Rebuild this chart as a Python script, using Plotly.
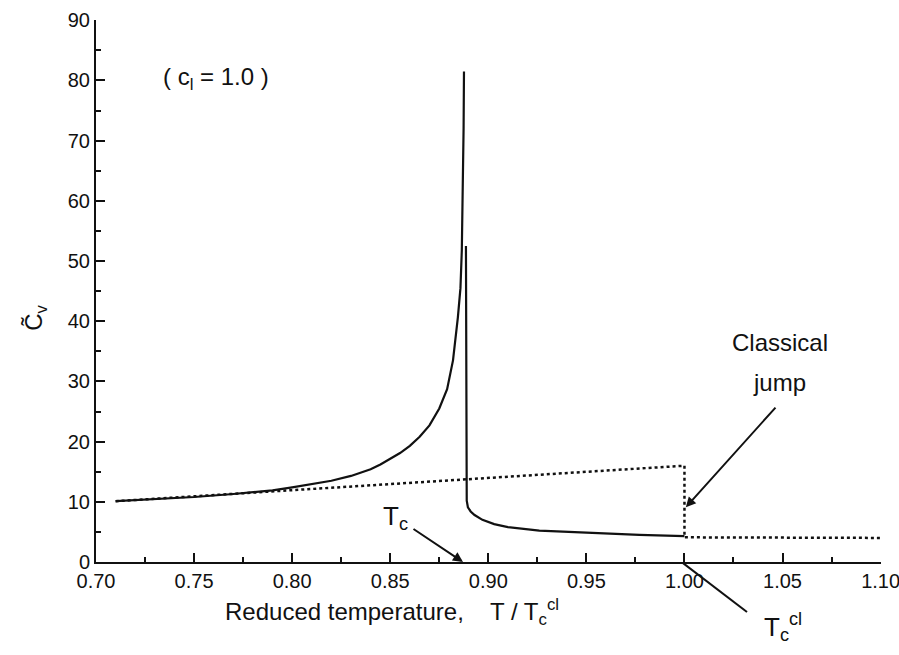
import plotly.graph_objects as go

# ---- data ----
# solid curve, below Tc (diverging branch)
t_low = [0.710, 0.730, 0.750, 0.770, 0.790, 0.800, 0.810, 0.820, 0.830, 0.840,
         0.845, 0.850, 0.855, 0.860, 0.865, 0.870, 0.875, 0.879, 0.882, 0.8845,
         0.8858, 0.8865, 0.8871, 0.8874, 0.8876]
cv_low = [10.1, 10.45, 10.8, 11.3, 11.9, 12.4, 12.9, 13.5, 14.3, 15.4,
          16.2, 17.1, 18.1, 19.3, 20.8, 22.7, 25.5, 28.7, 33.5, 40.7,
          45.5, 51.8, 62.0, 72.0, 81.5]
# solid curve, above Tc
t_high = [0.8886, 0.8887, 0.8890, 0.8896, 0.8910, 0.8930, 0.8970, 0.9030,
          0.9100, 0.9260, 0.9520, 0.9770, 1.0000]
cv_high = [52.5, 14.0, 10.2, 9.1, 8.4, 7.8, 7.0, 6.3,
           5.8, 5.2, 4.8, 4.5, 4.3]
# classical (mean-field) curve, dotted
t_cl = [0.710, 1.000, 1.000, 1.050, 1.100]
cv_cl = [10.1, 16.0, 4.1, 4.05, 4.0]

x_ticks = [0.70, 0.75, 0.80, 0.85, 0.90, 0.95, 1.00, 1.05, 1.10]
x_ticklabels = ["0.70", "0.75", "0.80", "0.85", "0.90", "0.95", "1.00", "1.05", "1.10"]
y_ticks = [0, 10, 20, 30, 40, 50, 60, 70, 80, 90]

FONT = "Liberation Sans, Arial, sans-serif"
INK = "#111111"

fig = go.Figure()
fig.add_trace(go.Scatter(x=t_cl, y=cv_cl, mode="lines",
                         line=dict(color=INK, width=2.5, dash="dot"),
                         showlegend=False, hoverinfo="skip"))
fig.add_trace(go.Scatter(x=t_low, y=cv_low, mode="lines",
                         line=dict(color=INK, width=2.2),
                         showlegend=False, hoverinfo="skip"))
fig.add_trace(go.Scatter(x=t_high, y=cv_high, mode="lines",
                         line=dict(color=INK, width=2.2),
                         showlegend=False, hoverinfo="skip"))

fig.update_xaxes(range=[0.70, 1.1002], tickvals=x_ticks, ticktext=x_ticklabels,
                 showline=True, linecolor=INK, linewidth=2, mirror=False,
                 ticks="inside", ticklen=9, tickwidth=2, tickcolor=INK,
                 minor=dict(dtick=0.025, tick0=0.70, ticks="inside", ticklen=5,
                            tickwidth=2, tickcolor=INK),
                 showgrid=False, zeroline=False, automargin=False,
                 ticklabeloverflow="allow",
                 tickfont=dict(family=FONT, size=20, color=INK))
fig.update_yaxes(range=[0, 90.05], tickvals=y_ticks,
                 showline=True, linecolor=INK, linewidth=2, mirror=False,
                 ticks="inside", ticklen=9, tickwidth=2, tickcolor=INK,
                 minor=dict(dtick=5, tick0=0, ticks="inside", ticklen=5,
                            tickwidth=2, tickcolor=INK),
                 showgrid=False, zeroline=False, automargin=False,
                 ticklabeloverflow="allow",
                 tickfont=dict(family=FONT, size=20, color=INK))

ann_font = dict(family=FONT, size=24, color=INK)
annotations = [
    dict(x=0.7612, y=80.4, text="( c<sub>l</sub> = 1.0 )", showarrow=False,
         font=dict(family=FONT, size=24, color=INK)),
    dict(x=1.0486, y=36.4, text="Classical", showarrow=False, font=ann_font),
    dict(x=1.0486, y=29.9, text="jump", showarrow=False, font=ann_font),
    # classical jump arrow
    dict(x=1.0007, y=9.1, ax=1.0471, ay=25.9, xref="x", yref="y",
         axref="x", ayref="y", text="", showarrow=True, arrowhead=2,
         arrowsize=1, arrowwidth=2, arrowcolor=INK),
    # Tc label and arrow
    dict(x=0.8525, y=7.4, text="T<sub>c</sub>", showarrow=False,
         font=dict(family=FONT, size=26, color=INK)),
    dict(x=0.8871, y=0, ax=0.8611, ay=5.65, xref="x", yref="y",
         axref="x", ayref="y", text="", showarrow=True, arrowhead=2,
         arrowsize=1, arrowwidth=2, arrowcolor=INK),
    # Tc^cl label (below the axis, paper coordinates)
    dict(x=0.875, y=-0.12, xref="paper", yref="paper", xanchor="center",
         yanchor="middle", text="T<sub>c</sub><sup>cl</sup>", showarrow=False,
         font=dict(family=FONT, size=26, color=INK)),
    # x-axis title
    dict(x=0.1618, y=-0.0923, xref="paper", yref="paper", xanchor="left",
         yanchor="middle",
         text="Reduced temperature,\u00a0\u00a0\u00a0 T / T<sub>c</sub><sup>cl</sup>",
         showarrow=False, font=ann_font),
    # y-axis title
    dict(x=-0.078, y=0.45, xref="paper", yref="paper", xanchor="center",
         yanchor="middle", text="C\u0303<sub>v</sub>", textangle=-90,
         showarrow=False, font=dict(family=FONT, size=24, color=INK)),
]
fig.update_layout(annotations=annotations)

# line from the axis at Tc^cl to its label
fig.add_shape(type="line", xref="paper", yref="paper",
              x0=0.7478, y0=-0.002, x1=0.8293, y1=-0.0923,
              line=dict(color=INK, width=2))
# small mark below the axis at Tc
fig.add_shape(type="line", x0=0.8875, x1=0.8875, y0=0, y1=-1.3, xref="x", yref="y",
              line=dict(color=INK, width=2))

fig.update_layout(width=899, height=655,
                  margin=dict(l=96, r=18, t=20, b=93, autoexpand=False),
                  paper_bgcolor="white", plot_bgcolor="white",
                  showlegend=False)

fig.write_html("out.html",
               config={"displayModeBar": False},
               post_script="document.body.style.margin='0';"
                           "document.body.style.overflow='hidden';")
